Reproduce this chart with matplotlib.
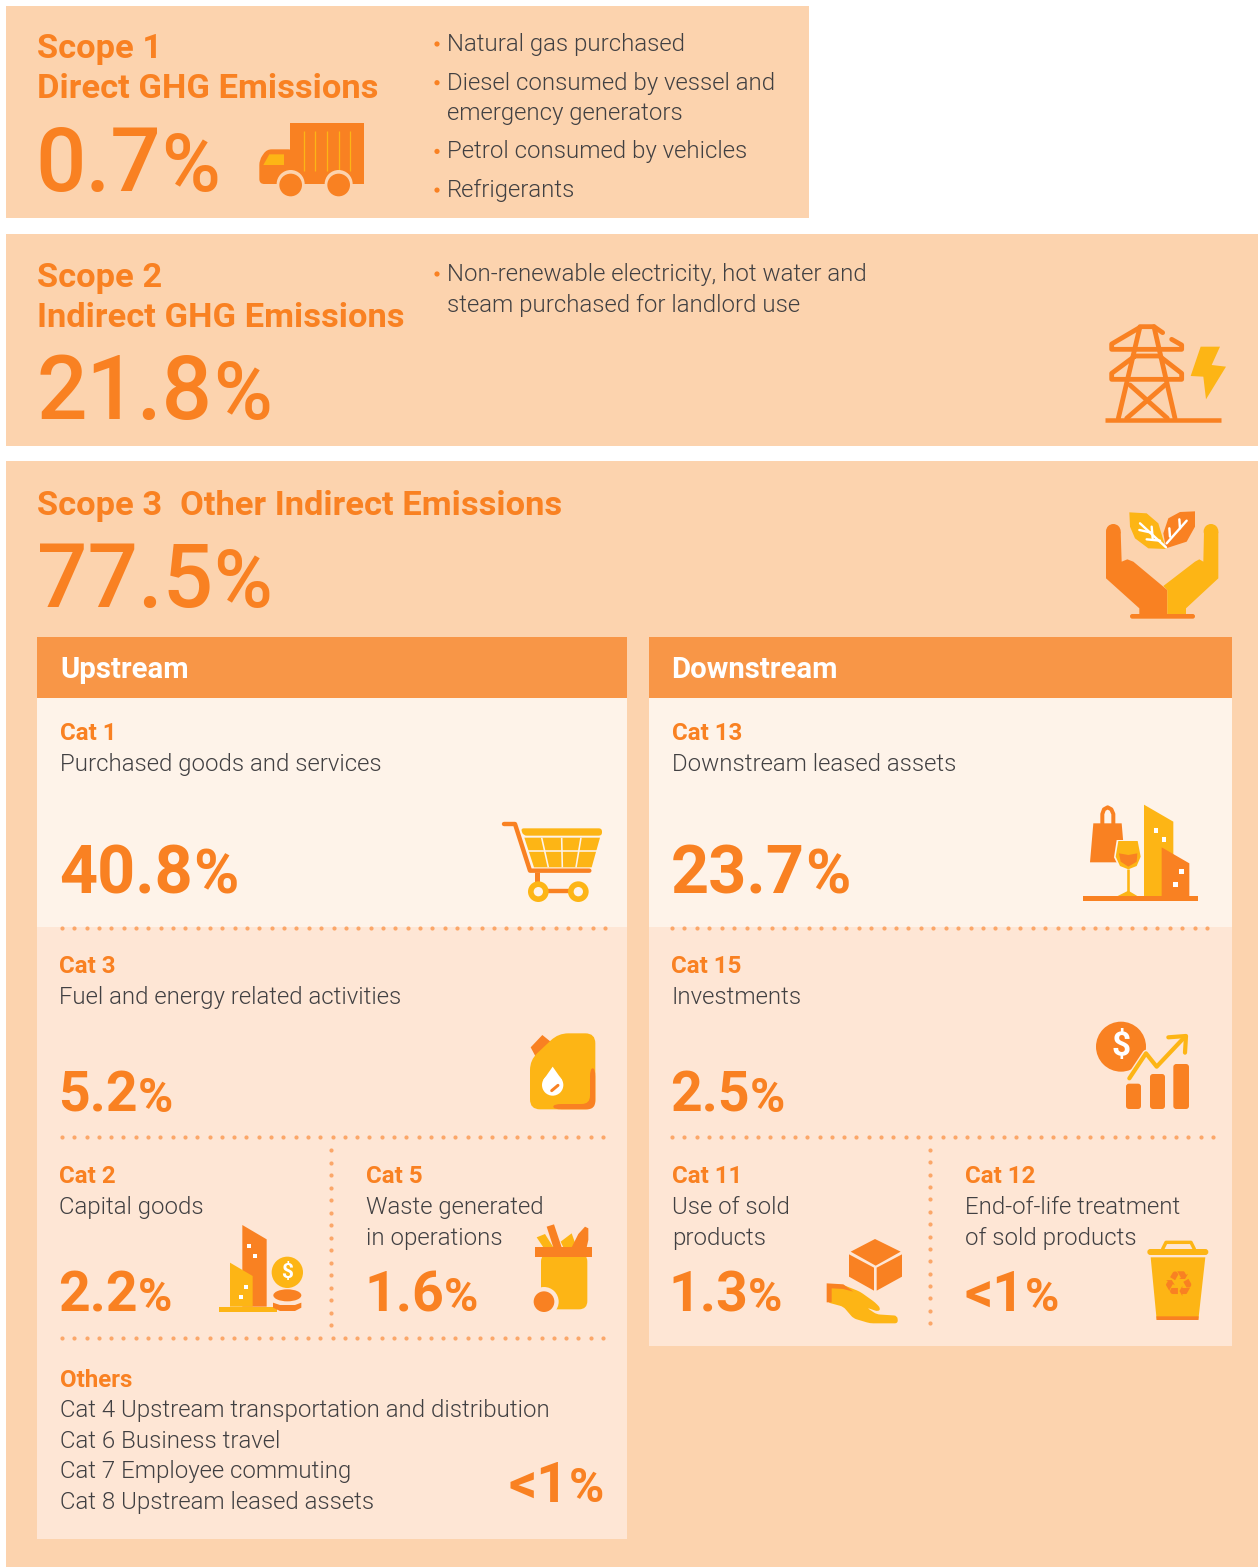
#!/usr/bin/env python3
"""Scope 1/2/3 GHG emissions breakdown infographic."""

import matplotlib
matplotlib.use('Agg')
import matplotlib.pyplot as plt
from matplotlib.patches import Circle, Ellipse, Polygon, Rectangle
from matplotlib.path import Path
from matplotlib.patches import PathPatch

plt.rcParams['font.family'] = ['Roboto', 'DejaVu Sans']

# Colours
PEACH = '#FCD3AE'
PALE = '#FEF3E9'
LIGHT = '#FEE6D5'
HEADER = '#F89647'
ORANGE = '#F98122'
YELLOW = '#FDB515'
DOT = '#FBA769'
DARK = '#414042'

# Scope values and text
scope_names = ['Scope 1', 'Scope 2', 'Scope 3']
scope_titles = ['Direct GHG Emissions', 'Indirect GHG Emissions', 'Other Indirect Emissions']
scope_values = ['0.7', '21.8', '77.5']
scope1_bullets = [['Natural gas purchased'],
                  ['Diesel consumed by vessel and', 'emergency generators'],
                  ['Petrol consumed by vehicles'],
                  ['Refrigerants']]
scope2_bullets = [['Non-renewable electricity, hot water and', 'steam purchased for landlord use']]

# Category values and text
columns = ['Upstream', 'Downstream']
cat_names = ['Cat 1', 'Cat 13', 'Cat 3', 'Cat 15']
cat_desc = ['Purchased goods and services', 'Downstream leased assets',
            'Fuel and energy related activities', 'Investments']
cat_values = ['40.8', '23.7', '5.2', '2.5']
small_names = ['Cat 2', 'Cat 5', 'Cat 11', 'Cat 12']
small_desc = [['Capital goods'], ['Waste generated', 'in operations'],
              ['Use of sold', 'products'], ['End-of-life treatment', 'of sold products']]
small_values = ['2.2', '1.6', '1.3', '<1']
others_name = 'Others'
others_lines = ['Cat 4 Upstream transportation and distribution', 'Cat 6 Business travel',
                'Cat 7 Employee commuting', 'Cat 8 Upstream leased assets']
others_value = '<1'

fig = plt.figure(figsize=(12.58, 15.67), dpi=100, facecolor='white')
ax = fig.add_axes([0, 0, 1, 1])
ax.set_xlim(0, 1258)
ax.set_ylim(1567, 0)
ax.axis('off')
renderer = fig.canvas.get_renderer()


def box(x0, y0, x1, y1, color, z=1):
    ax.add_patch(Rectangle((x0, y0), x1 - x0, y1 - y0, fc=color, ec='none', zorder=z))


def label(x, y, s, size, color=DARK, weight=300):
    return ax.text(x, y, s, fontsize=size, color=color, fontweight=weight,
                   va='baseline', ha='left', zorder=5)


def percent(x, y, value, size, weight, ratio=0.9):
    # the percent sign is set a little smaller than the digits
    t = label(x, y, value, size, ORANGE, weight)
    end = t.get_window_extent(renderer).x1
    label(end, y, '%', size * ratio, ORANGE, weight)


def bullets(x, y0, groups, line=30, gap=38.7):
    y = y0
    for group in groups:
        ax.add_patch(Circle((x - 10, y - 7), 2.6, fc=ORANGE, ec='none', zorder=5))
        for i, s in enumerate(group):
            label(x, y + i * line, s, DESC)
        y += gap + (len(group) - 1) * line


def dots(x0, x1, y0, y1, step):
    n = int(round(max(abs(x1 - x0), abs(y1 - y0)) / step))
    xs = [x0 + (x1 - x0) * i / n for i in range(n + 1)]
    ys = [y0 + (y1 - y0) * i / n for i in range(n + 1)]
    ax.scatter(xs, ys, s=9, color=DOT, linewidths=0, zorder=4)


# helpers below take icon points from a 3x crop, ox/oy being the crop corner
def z(pts, ox, oy):
    return [(ox + px / 3, oy + py / 3) for px, py in pts]


def poly(pts, ox, oy, color, order=6):
    ax.add_patch(Polygon(z(pts, ox, oy), closed=True, fc=color, ec='none', zorder=order))


def rpoly(pts, ox, oy, color, r=20, order=6):
    # polygon with rounded corners
    pp = z(pts, ox, oy)
    rad = r / 3
    n = len(pp)
    verts, codes = [], []
    for i in range(n):
        a, b, c = pp[i - 1], pp[i], pp[(i + 1) % n]
        da = ((a[0] - b[0]) ** 2 + (a[1] - b[1]) ** 2) ** 0.5
        dc = ((c[0] - b[0]) ** 2 + (c[1] - b[1]) ** 2) ** 0.5
        ra, rc = min(rad, da / 2) / da, min(rad, dc / 2) / dc
        p1 = (b[0] + (a[0] - b[0]) * ra, b[1] + (a[1] - b[1]) * ra)
        p2 = (b[0] + (c[0] - b[0]) * rc, b[1] + (c[1] - b[1]) * rc)
        verts += [p1, b, p2]
        codes += [Path.MOVETO if i == 0 else Path.LINETO, Path.CURVE3, Path.CURVE3]
    verts.append(verts[0])
    codes.append(Path.CLOSEPOLY)
    ax.add_patch(PathPatch(Path(verts, codes), fc=color, ec='none', zorder=order))


def stroke(pts, ox, oy, color, w, order=7, cap='round'):
    p = z(pts, ox, oy)
    ax.plot([q[0] for q in p], [q[1] for q in p], color=color, lw=w * 0.72,
            solid_capstyle=cap, solid_joinstyle='round', zorder=order)


def disc(cx, cy, r, ox, oy, color, order=7):
    ax.add_patch(Circle((ox + cx / 3, oy + cy / 3), r / 3, fc=color, ec='none', zorder=order))


def square(cx, cy, s, ox, oy, color='white', order=8):
    h = s / 2
    poly([(cx - h, cy - h), (cx + h, cy - h), (cx + h, cy + h), (cx - h, cy + h)], ox, oy, color, order)


def dollar(cx, cy, size, ox, oy, color='white'):
    ax.text(ox + cx / 3, oy + cy / 3, '$', fontsize=size, color=color, fontweight='bold',
            ha='center', va='center', zorder=9)


def truck():
    ox, oy = 0, 0
    poly([(870, 370), (1092, 370), (1092, 552), (870, 552)], ox, oy, ORANGE)
    rpoly([(778, 552), (778, 480), (800, 448), (880, 448), (880, 552)], ox, oy, ORANGE, 15)
    poly([(790, 495), (808, 463), (852, 463), (852, 495)], ox, oy, YELLOW, 7)
    for sx in [911, 946, 981, 1016, 1051]:
        stroke([(sx, 393), (sx, 513)], ox, oy, YELLOW, 1.3, cap='butt')
    for cx in [872, 1016]:
        disc(cx, 552, 42, ox, oy, PEACH, 8)
        disc(cx, 555, 34, ox, oy, ORANGE, 9)


def tower():
    ox, oy = 1080, 310
    w = 4.8
    stroke([(75, 330), (422, 330)], ox, oy, ORANGE, 4.5, cap='butt')
    stroke([(115, 325), (180, 50), (222, 50), (285, 325)], ox, oy, ORANGE, w)
    stroke([(180, 52), (95, 102), (95, 118), (305, 118), (305, 105), (275, 88)], ox, oy, ORANGE, w)
    stroke([(222, 50), (248, 68)], ox, oy, ORANGE, w)
    stroke([(165, 138), (95, 190), (95, 208), (305, 208), (305, 190), (238, 138), (165, 138)], ox, oy, ORANGE, w)
    stroke([(150, 225), (262, 325)], ox, oy, ORANGE, w)
    stroke([(255, 225), (140, 325)], ox, oy, ORANGE, w)
    poly([(362, 110), (420, 110), (395, 165), (438, 170), (378, 268), (370, 200), (332, 198)], ox, oy, YELLOW)


def hands():
    ox, oy = 1080, 310
    poly([(78, 665), (78, 805), (178, 895), (178, 915), (262, 915), (262, 840), (160, 755),
          (142, 748), (125, 755), (122, 665)], ox, oy, ORANGE)
    disc(100, 664, 22, ox, oy, ORANGE, 6)
    poly([(250, 828), (345, 755), (358, 748), (370, 755), (372, 665), (415, 665), (415, 805),
          (318, 895), (318, 915), (262, 915), (262, 840)], ox, oy, YELLOW)
    disc(393, 664, 22, ox, oy, YELLOW, 6)
    rpoly([(150, 912), (345, 912), (345, 926), (150, 926)], ox, oy, ORANGE, 7)
    poly([(148, 607), (200, 610), (235, 640), (258, 717), (205, 715), (165, 685), (150, 650)], ox, oy, YELLOW)
    poly([(345, 604), (345, 650), (320, 695), (258, 715), (250, 670), (265, 625), (300, 606)], ox, oy, ORANGE)
    for seg in [[(180, 640), (258, 712)], [(215, 650), (218, 685)], [(178, 660), (215, 668)], [(200, 688), (240, 692)],
                [(260, 700), (320, 632)], [(268, 655), (270, 680)], [(298, 628), (300, 655)]]:
        stroke(seg, ox, oy, 'white', 2.4, 8)


def cart():
    ox, oy = 480, 800
    stroke([(72, 72), (105, 72), (150, 212), (328, 212)], ox, oy, ORANGE, 4.4)
    stroke([(172, 215), (172, 250)], ox, oy, ORANGE, 5, cap='butt')
    stroke([(175, 272), (295, 272)], ox, oy, ORANGE, 4.4, cap='butt')
    rpoly([(122, 85), (366, 85), (366, 107), (130, 107)], ox, oy, YELLOW, 10)
    poly([(133, 113), (360, 113), (335, 202), (162, 202)], ox, oy, YELLOW)
    stroke([(140, 152), (355, 152)], ox, oy, PALE, 1.6, 8, 'butt')
    for a, b in [((185, 113), (205, 202)), ((245, 113), (247, 202)), ((303, 113), (288, 202))]:
        stroke([a, b], ox, oy, PALE, 1.6, 8, 'butt')
    for cx in [175, 295]:
        disc(cx, 275, 31, ox, oy, YELLOW, 8)
        disc(cx, 275, 14, ox, oy, PALE, 9)


def jug():
    ox, oy = 480, 800
    poly([(152, 742), (187, 705), (218, 730), (168, 772)], ox, oy, ORANGE)
    rpoly([(150, 780), (235, 700), (346, 700), (346, 928), (150, 928)], ox, oy, YELLOW, 30, 7)
    rpoly([(330, 805), (346, 805), (346, 928), (220, 928), (220, 912), (330, 912)], ox, oy, ORANGE, 25, 8)
    disc(218, 855, 32, ox, oy, 'white', 8)
    poly([(218, 800), (190, 840), (246, 840)], ox, oy, 'white', 8)
    stroke([(215, 872), (234, 856)], ox, oy, ORANGE, 3, 9)


def city_shop():
    ox, oy = 1070, 790
    stroke([(97, 105), (97, 72), (102, 58), (113, 52), (124, 58), (130, 72), (130, 105)], ox, oy, ORANGE, 4)
    poly([(70, 100), (155, 100), (165, 217), (60, 217)], ox, oy, ORANGE)
    poly([(222, 44), (310, 95), (310, 318), (222, 318)], ox, oy, YELLOW)
    poly([(275, 172), (358, 220), (358, 318), (275, 318)], ox, oy, ORANGE)
    poly([(40, 318), (383, 318), (383, 333), (40, 333)], ox, oy, ORANGE)
    poly([(140, 150), (208, 150), (218, 202), (203, 232), (175, 244), (147, 232), (132, 202)], ox, oy, PALE, 7)
    poly([(145, 153), (203, 153), (212, 200), (200, 228), (175, 238), (150, 228), (137, 200)], ox, oy, YELLOW, 8)
    poly([(147, 190), (175, 195), (202, 190), (200, 215), (175, 230), (152, 215)], ox, oy, ORANGE, 9)
    stroke([(175, 238), (175, 310)], ox, oy, YELLOW, 2.6, 8, 'butt')
    poly([(143, 318), (175, 302), (202, 318)], ox, oy, YELLOW, 8)
    for cx, cy in [(258, 121), (282, 149), (335, 244), (316, 283)]:
        square(cx, cy, 14, ox, oy)


def invest():
    ox, oy = 1070, 790
    disc(153, 770, 75, ox, oy, ORANGE, 6)
    dollar(153, 768, 24, ox, oy)
    stroke([(178, 865), (228, 790), (260, 830), (345, 740)], ox, oy, LIGHT, 7, 7)
    stroke([(178, 865), (228, 790), (260, 830), (345, 740)], ox, oy, YELLOW, 4.2, 8)
    stroke([(295, 742), (348, 738), (345, 788)], ox, oy, YELLOW, 4.2, 8)
    for x0, x1, top in [(168, 213, 881), (240, 285, 852), (310, 357, 822)]:
        rpoly([(x0, top), (x1, top), (x1, 957), (x0, 957)], ox, oy, ORANGE, 9)


def coins():
    ox, oy = 200, 1210
    poly([(127, 45), (200, 88), (200, 290), (127, 290)], ox, oy, ORANGE)
    poly([(90, 158), (158, 198), (158, 290), (90, 290)], ox, oy, YELLOW, 7)
    poly([(56, 290), (230, 290), (230, 305), (56, 305)], ox, oy, YELLOW, 7)
    for cx, cy in [(147, 108), (166, 138), (138, 230), (122, 262)]:
        square(cx, cy, 12, ox, oy)
    disc(262, 187, 47, ox, oy, YELLOW, 8)
    dollar(262, 188, 15, ox, oy)
    ax.add_patch(Ellipse((ox + 262 / 3, oy + 256 / 3), 84 / 3, 36 / 3, fc=ORANGE, ec='none', zorder=8))
    poly([(219, 278), (240, 285), (285, 285), (304, 278), (304, 293), (285, 303), (240, 303), (219, 293)], ox, oy, ORANGE, 8)


def waste_bin():
    ox, oy = 200, 1210
    poly([(1010, 82), (1035, 72), (1060, 112), (1030, 112)], ox, oy, YELLOW)
    poly([(1040, 50), (1062, 43), (1085, 112), (1060, 112)], ox, oy, ORANGE)
    poly([(1082, 95), (1115, 70), (1130, 112), (1090, 112)], ox, oy, YELLOW)
    poly([(1115, 112), (1135, 72), (1155, 50), (1165, 55), (1165, 90), (1160, 112)], ox, oy, ORANGE)
    rpoly([(1023, 130), (1162, 130), (1162, 298), (1023, 298)], ox, oy, YELLOW, 25, 6)
    poly([(1005, 112), (1176, 112), (1176, 140), (1005, 140)], ox, oy, ORANGE, 7)
    disc(1032, 275, 44, ox, oy, LIGHT, 7)
    disc(1032, 275, 31, ox, oy, ORANGE, 8)


def hand_box():
    ox, oy = 810, 1225
    poly([(195, 42), (272, 80), (197, 122), (122, 80)], ox, oy, ORANGE)
    poly([(117, 88), (192, 128), (192, 197), (117, 155)], ox, oy, ORANGE)
    poly([(200, 128), (276, 88), (276, 155), (200, 197)], ox, oy, ORANGE)
    rpoly([(52, 178), (100, 180), (150, 200), (195, 232), (212, 250), (205, 260), (170, 248), (200, 268),
           (262, 272), (264, 295), (180, 295), (130, 280), (100, 245), (52, 232)], ox, oy, YELLOW, 10)
    poly([(50, 175), (100, 178), (130, 200), (100, 192), (65, 190), (65, 232), (50, 232)], ox, oy, ORANGE, 7)


def recycle_bin():
    ox, oy = 810, 1225
    stroke([(1058, 72), (1068, 52), (1143, 52), (1153, 72)], ox, oy, YELLOW, 3.4)
    rpoly([(1012, 72), (1195, 72), (1195, 90), (1012, 90)], ox, oy, YELLOW, 9)
    poly([(1022, 97), (1186, 97), (1165, 285), (1040, 285)], ox, oy, YELLOW)
    poly([(1039, 274), (1166, 274), (1165, 285), (1040, 285)], ox, oy, ORANGE, 7)
    ax.text(ox + 1104 / 3, oy + 182 / 3, '\u267b', fontsize=25, color=ORANGE, family='DejaVu Sans',
            ha='center', va='center', zorder=8)


# =========================================================================
# Panels
# =========================================================================
box(6, 6, 809, 218, PEACH)
box(6, 234, 1258, 446, PEACH)
box(6, 461, 1258, 1567, PEACH)
box(37, 637, 627, 698, HEADER, 2)
box(649, 637, 1232, 698, HEADER, 2)
box(37, 698, 627, 927, PALE, 2)
box(649, 698, 1232, 927, PALE, 2)
box(37, 927, 627, 1539, LIGHT, 2)
box(649, 927, 1232, 1346, LIGHT, 2)

dots(62, 605, 928, 928, 12.35)
dots(672, 1207, 928, 928, 12.35)
dots(62, 603, 1137, 1137, 12.35)
dots(672, 1213, 1137, 1137, 12.35)
dots(62, 603, 1338, 1338, 12.35)
dots(331, 331, 1150, 1325, 12.5)
dots(930, 930, 1150, 1323, 12.5)

# =========================================================================
# Scope headings
# =========================================================================
HEAD = 24.8
BIG = 64
CAT = 17.4
DESC = 17.3
label(37, 58, scope_names[0], HEAD, ORANGE, 700)
label(37, 98, scope_titles[0], HEAD, ORANGE, 700)
percent(35, 191, scope_values[0], BIG, 500, 0.9)
bullets(447, 51, scope1_bullets)

label(37, 287, scope_names[1], HEAD, ORANGE, 700)
label(37, 327, scope_titles[1], HEAD, ORANGE, 700)
percent(37, 419, scope_values[1], BIG, 500, 0.9)
bullets(447, 281, scope2_bullets, line=31)

label(37, 515, scope_names[2], HEAD, ORANGE, 700)
label(180, 515, scope_titles[2], HEAD, ORANGE, 700)
percent(37, 607, scope_values[2], BIG, 500, 0.9)

# =========================================================================
# Upstream / downstream columns
# =========================================================================
label(60, 678, columns[0], 21.2, 'white', 700)
label(671, 678, columns[1], 21.2, 'white', 700)

for i, x in enumerate([60, 672]):
    label(x, 740, cat_names[i], CAT, ORANGE, 700)
    label(x, 771, cat_desc[i], DESC)
    percent(x - 1, 894, cat_values[i], 48, 700, 0.92)
for i, x in enumerate([59, 671]):
    label(x, 973, cat_names[i + 2], CAT, ORANGE, 700)
    label(x, 1004, cat_desc[i + 2], DESC)
    percent(x - 1, 1112, cat_values[i + 2], 40, 700, 0.86)

value_x = [58, 364, 668, 965]
for i, x in enumerate([59, 366, 672, 965]):
    label(x, 1183, small_names[i], CAT, ORANGE, 700)
    for j, s in enumerate(small_desc[i]):
        label(x, 1214 + j * 31, s, DESC)
    percent(value_x[i], 1311, small_values[i], 40, 700, 0.84)

label(60, 1387, others_name, CAT, ORANGE, 700)
for j, s in enumerate(others_lines):
    label(60, 1417 + j * 30.7, s, DESC)
percent(509, 1502, others_value, 40, 700, 0.86)

# =========================================================================
# Icons
# =========================================================================
truck()
tower()
hands()
cart()
jug()
city_shop()
invest()
coins()
waste_bin()
hand_box()
recycle_bin()

fig.savefig('out.png', dpi=100, facecolor='white')
